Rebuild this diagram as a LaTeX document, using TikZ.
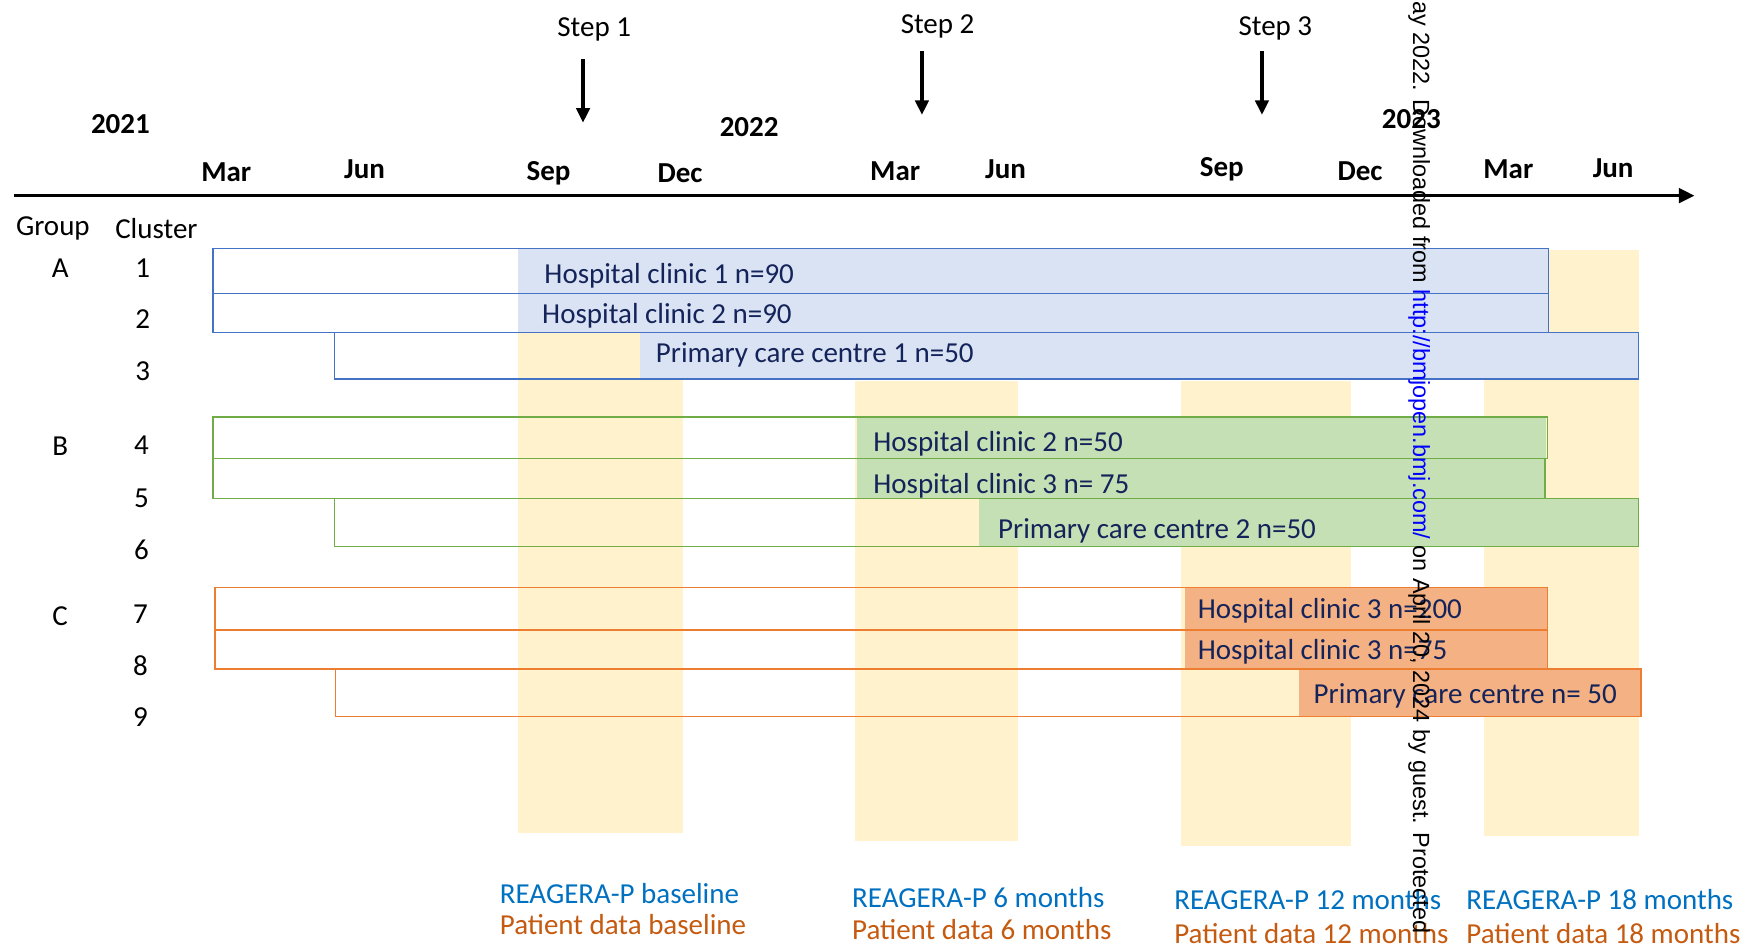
\documentclass[tikz,border=0pt]{standalone}
\usepackage{fontspec}
\setmainfont{Carlito}
\newfontfamily\wmfont{Liberation Sans}
\usetikzlibrary{arrows.meta}
\definecolor{blueFill}{HTML}{DAE3F3}
\definecolor{blueLine}{HTML}{4472C4}
\definecolor{greenFill}{HTML}{C5E0B4}
\definecolor{greenLine}{HTML}{70AD47}
\definecolor{orangeFill}{HTML}{F4B183}
\definecolor{orangeLine}{HTML}{ED7D31}
\definecolor{yellowFill}{HTML}{FFF2CC}
\definecolor{barText}{RGB}{20,35,90}
\definecolor{regBlue}{HTML}{0070C0}
\definecolor{patOrange}{HTML}{C55A11}
\definecolor{wmBlue}{RGB}{0,0,255}
\begin{document}
\begin{tikzpicture}[x=0.5pt,y=-0.5pt,
  font=\fontsize{13}{15}\selectfont,
  txt/.style={inner sep=0pt, anchor=base},
  month/.style={inner sep=0pt, anchor=base, font=\fontsize{13}{15}\selectfont\bfseries},
  lbl/.style={inner sep=0pt, anchor=base west, text=barText},
  reg/.style={inner sep=0pt, anchor=base west, text=regBlue},
  pat/.style={inner sep=0pt, anchor=base west, text=patOrange},
  barline/.style={line width=0.6pt},
  axisline/.style={line width=1.5pt, -{Triangle[length=7pt,width=6.5pt]}},
  steparrow/.style={line width=1.5pt, -{Triangle[length=6.5pt,width=6pt]}},
  wm/.style={inner sep=0pt, rotate=-90, font=\wmfont\fontsize{10.5}{12}\selectfont}]
\useasboundingbox (0,0) rectangle (1568,853);

% yellow measurement columns
\fill[yellowFill] (465,223) rectangle (613,747);
\fill[yellowFill] (767,342) rectangle (913,754);
\fill[yellowFill] (1059,342) rectangle (1212,759);
\fill[yellowFill] (1331,224) rectangle (1470,750);

% group A
\fill[blueFill] (465,223) rectangle (1389,263);
\fill[blueFill] (465,263) rectangle (1389,298);
\fill[blueFill] (574,298) rectangle (1470,340);
\draw[blueLine, barline] (191,223) rectangle (1389,263);
\draw[blueLine, barline] (191,263) rectangle (1389,298);
\draw[blueLine, barline] (300,298) rectangle (1470,340);

% group B
\fill[greenFill] (769,374) rectangle (1387,411);
\fill[greenFill] (769,411) rectangle (1386,447);
\fill[greenFill] (878,447) rectangle (1470,490);
\draw[greenLine, barline] (191,374) rectangle (1388,411);
\draw[greenLine, barline] (191,411) rectangle (1386,447);
\draw[greenLine, barline] (300,447) rectangle (1470,490);

% group C
\fill[orangeFill] (1063,527) rectangle (1388,565);
\fill[orangeFill] (1063,565) rectangle (1388,600);
\fill[orangeFill] (1165,600) rectangle (1471,643);
\draw[orangeLine, barline] (193,527) rectangle (1388,565);
\draw[orangeLine, barline] (193,565) rectangle (1388,600);
\draw[orangeLine, barline] (301,600) rectangle (1472,643);

% time axis
\coordinate (axL) at (13,175.5);
\coordinate (axR) at (1520,175.5);
\draw[axisline] (axL) -- (axR);

% years and months
\node[month] (y2021) at (108,119.5) {2021};
\node[month] (y2022) at (672,122) {2022};
\node[month] (y2023) at (1266,115) {2023};
\node[month] (m1) at (203,163) {Mar};
\node[month] (m2) at (327,160) {Jun};
\node[month] (m3) at (492,161.5) {Sep};
\node[month] (m4) at (610,164) {Dec};
\node[month] (m5) at (803,161.5) {Mar};
\node[month] (m6) at (902,160) {Jun};
\node[month] (m7) at (1096,158.5) {Sep};
\node[month] (m8) at (1220,161.5) {Dec};
\node[month] (m9) at (1353,160) {Mar};
\node[month] (m10) at (1447,159) {Jun};

% steps
\node[txt] (st1) at (533,33) {Step 1};
\node[txt] (st2) at (841,30) {Step 2};
\node[txt] (st3) at (1144,31.5) {Step 3};
\coordinate (s1a) at (523,53);  \coordinate (s1b) at (523,110);
\coordinate (s2a) at (827,46);  \coordinate (s2b) at (827,103);
\coordinate (s3a) at (1132,46); \coordinate (s3b) at (1132,103);
\draw[steparrow] (s1a) -- (s1b);
\draw[steparrow] (s2a) -- (s2b);
\draw[steparrow] (s3a) -- (s3b);

% headers
\node[txt, anchor=base west] (hgroup) at (14,211) {Group};
\node[txt, anchor=base west] (hcluster) at (103,213.5) {Cluster};
\node[txt] (gA) at (54,248.7) {A};
\node[txt] (gB) at (54,409) {B};
\node[txt] (gC) at (54,561) {C};
\node[txt] (c1) at (128,248.7) {1};
\node[txt] (c2) at (128,294.5) {2};
\node[txt] (c3) at (128,341) {3};
\node[txt] (c4) at (127,408) {4};
\node[txt] (c5) at (127,455.4) {5};
\node[txt] (c6) at (127,501.5) {6};
\node[txt] (c7) at (126,559) {7};
\node[txt] (c8) at (126,605.5) {8};
\node[txt] (c9) at (126,652) {9};

% bar labels
\node[lbl] (b1) at (488,254) {Hospital clinic 1 n=90};
\node[lbl] (b2) at (486,290.5) {Hospital clinic 2 n=90};
\node[lbl] (b3) at (588,325) {Primary care centre 1 n=50};
\node[lbl] (b4) at (783,405) {Hospital clinic 2 n=50};
\node[lbl] (b5) at (783,442.5) {Hospital clinic 3 n= 75};
\node[lbl] (b6) at (895,483) {Primary care centre 2 n=50};
\node[lbl] (b7) at (1074,554.6) {Hospital clinic 3 n=200};
\node[lbl] (b8) at (1074,591.5) {Hospital clinic 3 n=75};
\node[lbl] (b9) at (1178,631) {Primary care centre n= 50};

% bottom legends
\node[reg] (r1) at (448,810) {REAGERA-P baseline};
\node[pat] (p1) at (448,838.7) {Patient data baseline};
\node[reg] (r2) at (764,814) {REAGERA-P 6 months};
\node[pat] (p2) at (764,843) {Patient data 6 months};
\node[reg] (r3) at (1053,816) {REAGERA-P 12 months};
\node[pat] (p3) at (1053,846) {Patient data 12 months};
\node[reg] (r4) at (1315,816) {REAGERA-P 18 months};
\node[pat] (p4) at (1315,846) {Patient data 18 months};

% watermark
\node[wm, anchor=west] (wm) at (1273,0.5) {ay 2022. Downloaded from \textcolor{wmBlue}{http://bmjopen.bmj.com/} on April 20, 2024 by guest. Protected};
\end{tikzpicture}
\end{document}
